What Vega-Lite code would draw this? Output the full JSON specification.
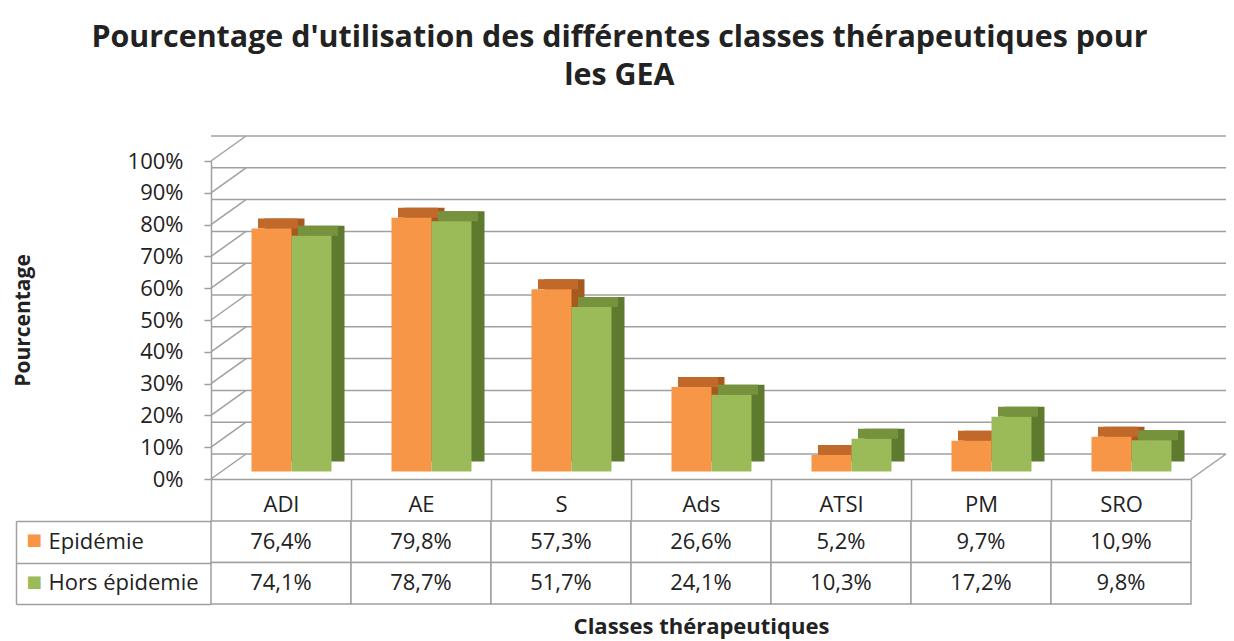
{
  "$schema": "https://vega.github.io/schema/vega-lite/v6.json",
  "background": "white",
  "padding": {"left": 12, "top": 23, "right": 5, "bottom": 5},
  "config": {
    "view": {"stroke": null},
    "font": "Open Sans",
    "locale": {"number": {"decimal": ",", "thousands": "\u00a0", "grouping": [3], "currency": ["", " €"]}},
    "concat": {"spacing": 0}
  },
  "title": {
    "text": ["Pourcentage d'utilisation des différentes classes thérapeutiques pour", "les GEA"],
    "font": "Open Sans",
    "fontSize": 30.4,
    "fontWeight": "bold",
    "color": "#222222",
    "lineHeight": 38,
    "anchor": "middle",
    "offset": 43.5
  },
  "datasets": {
    "d": [
      {"cat": "ADI", "series": "Epidémie", "val": 0.764},
      {"cat": "ADI", "series": "Hors épidemie", "val": 0.741},
      {"cat": "AE", "series": "Epidémie", "val": 0.798},
      {"cat": "AE", "series": "Hors épidemie", "val": 0.787},
      {"cat": "S", "series": "Epidémie", "val": 0.573},
      {"cat": "S", "series": "Hors épidemie", "val": 0.517},
      {"cat": "Ads", "series": "Epidémie", "val": 0.266},
      {"cat": "Ads", "series": "Hors épidemie", "val": 0.241},
      {"cat": "ATSI", "series": "Epidémie", "val": 0.052},
      {"cat": "ATSI", "series": "Hors épidemie", "val": 0.103},
      {"cat": "PM", "series": "Epidémie", "val": 0.097},
      {"cat": "PM", "series": "Hors épidemie", "val": 0.172},
      {"cat": "SRO", "series": "Epidémie", "val": 0.109},
      {"cat": "SRO", "series": "Hors épidemie", "val": 0.098}
    ],
    "grid": [
      {"val": 0}, {"val": 0.1}, {"val": 0.2}, {"val": 0.3}, {"val": 0.4}, {"val": 0.5},
      {"val": 0.6}, {"val": 0.7}, {"val": 0.8}, {"val": 0.9}, {"val": 1}
    ]
  },
  "spacing": -13,
  "vconcat": [
    {
      "width": 980,
      "height": 318,
      "encoding": {
        "y": {
          "field": "val", "type": "quantitative",
          "scale": {"domain": [0, 1], "nice": false},
          "axis": {
            "values": [0, 0.1, 0.2, 0.3, 0.4, 0.5, 0.6, 0.7, 0.8, 0.9, 1],
            "format": ".0%", "grid": false,
            "domainColor": "#a0a0a0", "domainWidth": 1.5,
            "tickColor": "#a0a0a0", "tickWidth": 1.5, "tickSize": 7,
            "labelPadding": 21, "labelFontSize": 22, "labelColor": "#222222",
            "title": "Pourcentage", "titleFontSize": 21, "titleFontWeight": "bold",
            "titleColor": "#222222", "titlePadding": 94
          }
        }
      },
      "layer": [
        {
          "data": {"name": "grid"},
          "mark": {"type": "rule", "color": "#a0a0a0", "strokeWidth": 1.5, "xOffset": 35, "x2Offset": 35, "yOffset": -25}
        },
        {
          "data": {"name": "grid"},
          "mark": {"type": "rule", "color": "#a0a0a0", "strokeWidth": 1.5, "x2Offset": 35, "y2Offset": -25},
          "encoding": {
            "x": {"datum": "ADI", "type": "nominal", "bandPosition": 0,
                  "scale": {"domain": ["ADI", "AE", "S", "Ads", "ATSI", "PM", "SRO"], "paddingInner": 0, "paddingOuter": 0},
                  "axis": {"orient": "bottom", "title": null, "labelAngle": 0, "domainColor": "#a0a0a0", "domainWidth": 1.5,
                           "tickBand": "extent", "tickSize": 41, "tickColor": "#a0a0a0", "tickWidth": 1.5,
                           "labelFontSize": 22, "labelColor": "#222222", "labelBaseline": "alphabetic", "labelPadding": -9}},
            "x2": {"datum": "ADI", "bandPosition": 0},
            "y2": {"field": "val"}
          }
        },
        {
          "data": {"values": [{"val": 0}]},
          "mark": {"type": "rule", "color": "#a0a0a0", "strokeWidth": 1.5, "x2Offset": 35, "y2Offset": -25},
          "encoding": {
            "x": {"datum": "SRO", "type": "nominal", "bandPosition": 1,
                  "scale": {"domain": ["ADI", "AE", "S", "Ads", "ATSI", "PM", "SRO"], "paddingInner": 0, "paddingOuter": 0},
                  "axis": {"orient": "bottom", "title": null, "labelAngle": 0, "domainColor": "#a0a0a0", "domainWidth": 1.5,
                           "tickBand": "extent", "tickSize": 41, "tickColor": "#a0a0a0", "tickWidth": 1.5,
                           "labelFontSize": 22, "labelColor": "#222222", "labelBaseline": "alphabetic", "labelPadding": -9}},
            "x2": {"datum": "SRO", "bandPosition": 1},
            "y2": {"field": "val"}
          }
        },
        {
          "data": {"name": "d"},
          "layer": [
            {
              "transform": [{"filter": "datum.series === 'Epidémie'"}],
              "mark": {"type": "bar", "width": 40, "color": "#A65A20", "xOffset": 3.5, "yOffset": -17.5, "y2Offset": -17.5},
              "encoding": {"y2": {"datum": 0}}
            },
            {
              "transform": [{"filter": "datum.series === 'Hors épidemie'"}],
              "mark": {"type": "bar", "width": 40, "color": "#5E7A2E", "xOffset": 43.5, "yOffset": -17.5, "y2Offset": -17.5},
              "encoding": {"y2": {"datum": 0}}
            },
            {
              "transform": [{"filter": "datum.series === 'Epidémie'"}],
              "mark": {"type": "bar", "width": 40, "color": "#C0692A", "xOffset": -3, "yOffset": -17.5, "y2Offset": -7.5},
              "encoding": {"y2": {"field": "val"}}
            },
            {
              "transform": [{"filter": "datum.series === 'Hors épidemie'"}],
              "mark": {"type": "bar", "width": 40, "color": "#76923C", "xOffset": 37, "yOffset": -17.5, "y2Offset": -7.5},
              "encoding": {"y2": {"field": "val"}}
            },
            {
              "transform": [{"filter": "datum.series === 'Epidémie'"}],
              "mark": {"type": "bar", "width": 40, "color": "#F79646", "xOffset": -9.5, "yOffset": -7.5, "y2Offset": -7.5},
              "encoding": {"y2": {"datum": 0}}
            },
            {
              "transform": [{"filter": "datum.series === 'Hors épidemie'"}],
              "mark": {"type": "bar", "width": 40, "color": "#9BBB59", "xOffset": 30.5, "yOffset": -7.5, "y2Offset": -7.5},
              "encoding": {"y2": {"datum": 0}}
            }
          ],
          "encoding": {
            "x": {"field": "cat", "type": "nominal",
                  "scale": {"domain": ["ADI", "AE", "S", "Ads", "ATSI", "PM", "SRO"], "paddingInner": 0, "paddingOuter": 0},
                  "axis": {"orient": "bottom", "title": null, "labelAngle": 0, "domainColor": "#a0a0a0", "domainWidth": 1.5,
                           "tickBand": "extent", "tickSize": 41, "tickColor": "#a0a0a0", "tickWidth": 1.5,
                           "labelFontSize": 22, "labelColor": "#222222", "labelBaseline": "alphabetic", "labelPadding": -9}}
          }
        }
      ]
    },
    {
      "width": 980,
      "height": 83,
      "data": {"name": "d"},
      "layer": [
        {
          "mark": {"type": "rect", "fill": "white", "stroke": "#a0a0a0", "strokeWidth": 1.5},
          "encoding": {
            "x": {
              "field": "cat", "type": "nominal",
              "scale": {"domain": ["ADI", "AE", "S", "Ads", "ATSI", "PM", "SRO"], "paddingInner": 0, "paddingOuter": 0},
              "axis": {"orient": "bottom", "title": "Classes thérapeutiques", "labels": false, "ticks": false, "domain": false,
                       "titleFontSize": 22, "titleFontWeight": "bold", "titleColor": "#222222", "titlePadding": 12}
            },
            "y": {
              "field": "series", "type": "nominal",
              "scale": {"domain": ["Epidémie", "Hors épidemie"], "paddingInner": 0, "paddingOuter": 0},
              "axis": {
                "orient": "left", "title": null, "domain": false,
                "tickBand": "extent", "tickSize": 195, "tickColor": "#a0a0a0", "tickWidth": 1.5,
                "labelExpr": "datum.value === 'Epidémie' || datum.value === 'Hors épidemie' ? '■' : ''",
                "labelFont": "DejaVu Sans", "labelFontSize": 16.5, "labelOffset": -2,
                "labelAlign": "left", "labelPadding": -10,
                "labelColor": {"condition": {"test": "datum.value === 'Epidémie'", "value": "#F79646"}, "value": "#9BBB59"}
              }
            }
          }
        },
        {
          "mark": {"type": "text", "fontSize": 22, "color": "#222222"},
          "encoding": {
            "x": {"field": "cat", "type": "nominal",
                  "scale": {"domain": ["ADI", "AE", "S", "Ads", "ATSI", "PM", "SRO"], "paddingInner": 0, "paddingOuter": 0}},
            "y": {
              "field": "series", "type": "nominal",
              "scale": {"domain": ["Epidémie", "Hors épidemie"], "paddingInner": 0, "paddingOuter": 0},
              "axis": {
                "orient": "left", "title": null, "ticks": false,
                "domainColor": "#a0a0a0", "domainWidth": 1.5, "offset": 195,
                "labelAlign": "left", "labelPadding": -32, "labelFontSize": 22, "labelColor": "#222222"
              }
            },
            "text": {"field": "val", "type": "quantitative", "format": ".1%"}
          }
        }
      ],
      "resolve": {"axis": {"y": "independent"}}
    }
  ]
}
